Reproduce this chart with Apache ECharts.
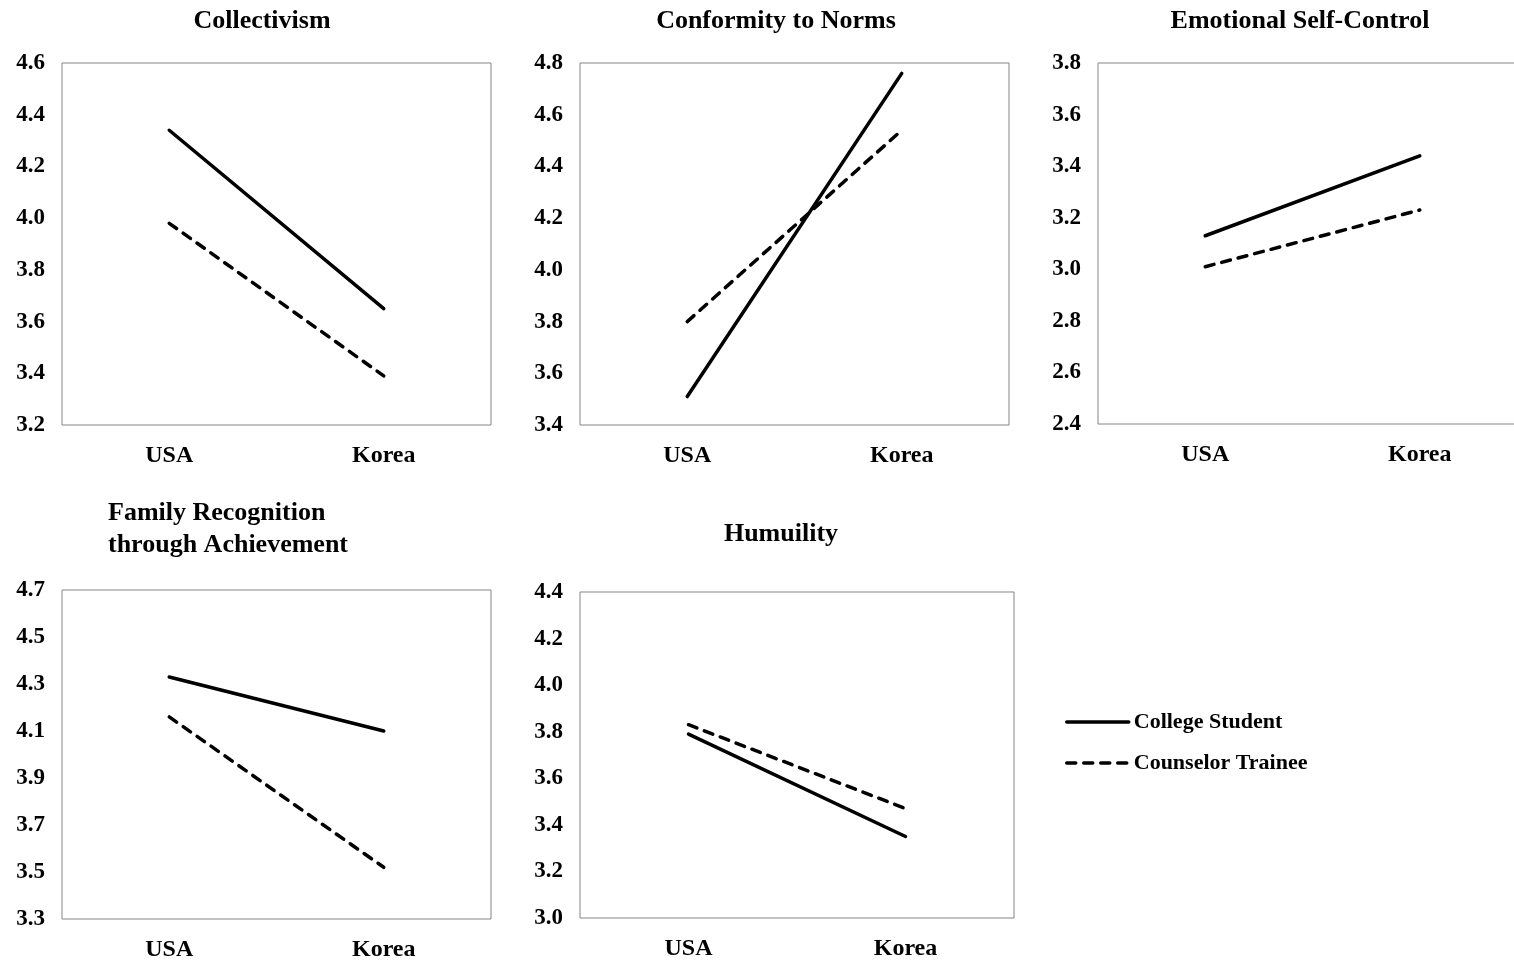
<!DOCTYPE html>
<html>
<head>
<meta charset="utf-8">
<script src="https://cdn.jsdelivr.net/npm/echarts@6/dist/echarts.min.js"></script>
<style>
html,body{margin:0;padding:0;background:#fff;}
#chart{width:1514px;height:962px;}
</style>
</head>
<body>
<div id="chart"></div>
<script>
// ---- data ----
const categories = ['USA', 'Korea'];
const seriesNames = ['College Student', 'Counselor Trainee'];

const collectivismStudent = [4.34, 3.65];
const collectivismTrainee = [3.98, 3.39];
const conformityStudent = [3.51, 4.76];
const conformityTrainee = [3.80, 4.54];
const emotionalStudent = [3.13, 3.44];
const emotionalTrainee = [3.01, 3.23];
const familyStudent = [4.33, 4.10];
const familyTrainee = [4.16, 3.52];
const humilityStudent = [3.79, 3.35];
const humilityTrainee = [3.83, 3.47];

const collectivismTicks = [3.2, 3.4, 3.6, 3.8, 4.0, 4.2, 4.4, 4.6];
const conformityTicks = [3.4, 3.6, 3.8, 4.0, 4.2, 4.4, 4.6, 4.8];
const emotionalTicks = [2.4, 2.6, 2.8, 3.0, 3.2, 3.4, 3.6, 3.8];
const familyTicks = [3.3, 3.5, 3.7, 3.9, 4.1, 4.3, 4.5, 4.7];
const humilityTicks = [3.0, 3.2, 3.4, 3.6, 3.8, 4.0, 4.2, 4.4];

const panelTitles = ['Collectivism', 'Conformity to Norms', 'Emotional Self-Control',
  ['Family Recognition', 'through Achievement'], 'Humuility'];

// ---- layout / style ----
const FONT = '"Liberation Serif", "Times New Roman", serif';
const panels = [
  { grid: { left: 62, top: 63, width: 429, height: 362 }, ticks: collectivismTicks, s: collectivismStudent, t: collectivismTrainee },
  { grid: { left: 580, top: 63, width: 429, height: 362 }, ticks: conformityTicks, s: conformityStudent, t: conformityTrainee },
  { grid: { left: 1098, top: 63, width: 429, height: 361 }, ticks: emotionalTicks, s: emotionalStudent, t: emotionalTrainee },
  { grid: { left: 62, top: 590, width: 429, height: 329 }, ticks: familyTicks, s: familyStudent, t: familyTrainee },
  { grid: { left: 580, top: 592, width: 434, height: 326 }, ticks: humilityTicks, s: humilityStudent, t: humilityTrainee }
];

const grids = [], xAxes = [], yAxes = [], series = [];
panels.forEach((p, i) => {
  grids.push(Object.assign({ show: true, borderColor: '#858585', borderWidth: 1, backgroundColor: 'transparent', containLabel: false, outerBoundsMode: 'none' }, p.grid));
  xAxes.push({
    type: 'category', gridIndex: i, data: categories, boundaryGap: true,
    axisLine: { show: false }, axisTick: { show: false }, splitLine: { show: false },
    axisLabel: { margin: 19, fontFamily: FONT, fontWeight: 'bold', fontSize: 24, color: '#000' }
  });
  const mn = p.ticks[0], mx = p.ticks[p.ticks.length - 1];
  yAxes.push({
    type: 'value', gridIndex: i, min: mn, max: mx,
    axisLine: { show: false }, axisTick: { show: false }, splitLine: { show: false },
    axisLabel: {
      customValues: p.ticks, showMinLabel: true, showMaxLabel: true,
      margin: 17, fontFamily: FONT, fontWeight: 'bold', fontSize: 23, color: '#000',
      formatter: v => Number(v).toFixed(1)
    }
  });
  series.push({
    name: seriesNames[0], type: 'line', xAxisIndex: i, yAxisIndex: i, data: p.s,
    symbol: 'none', silent: true,
    lineStyle: { color: '#000', width: 3.5, cap: 'round' }, itemStyle: { color: '#000' }
  });
  series.push({
    name: seriesNames[1], type: 'line', xAxisIndex: i, yAxisIndex: i, data: p.t,
    symbol: 'none', silent: true,
    lineStyle: { color: '#000', width: 3.5, type: [9, 8], cap: 'round' }, itemStyle: { color: '#000' }
  });
});

const titleStyle = (text, x, y, align) => ({
  type: 'text', x: x, y: y, silent: true,
  style: { text: text, fill: '#000', font: 'bold 26px ' + FONT, textAlign: align, textVerticalAlign: 'middle' }
});

const graphics = [
  titleStyle(panelTitles[0], 262, 21, 'center'),
  titleStyle(panelTitles[1], 776, 21, 'center'),
  titleStyle(panelTitles[2], 1300, 21, 'center'),
  titleStyle(panelTitles[3][0], 108, 513, 'left'),
  titleStyle(panelTitles[3][1], 108, 545, 'left'),
  titleStyle(panelTitles[4], 781, 534, 'center')
];

const chart = echarts.init(document.getElementById('chart'));
chart.setOption({
  animation: false,
  backgroundColor: '#fff',
  grid: grids,
  xAxis: xAxes,
  yAxis: yAxes,
  series: series,
  graphic: graphics,
  legend: {
    orient: 'vertical', left: 1065, top: 711, padding: 0, itemGap: 19,
    itemWidth: 62, itemHeight: 14, selectedMode: false,
    data: seriesNames,
    itemStyle: { opacity: 0, color: 'rgba(0,0,0,0)', borderColor: 'rgba(0,0,0,0)', borderWidth: 0 },
    lineStyle: { width: 3.5, color: '#000' },
    textStyle: { fontFamily: FONT, fontWeight: 'bold', fontSize: 22, color: '#000' }
  }
});
</script>
</body>
</html>
